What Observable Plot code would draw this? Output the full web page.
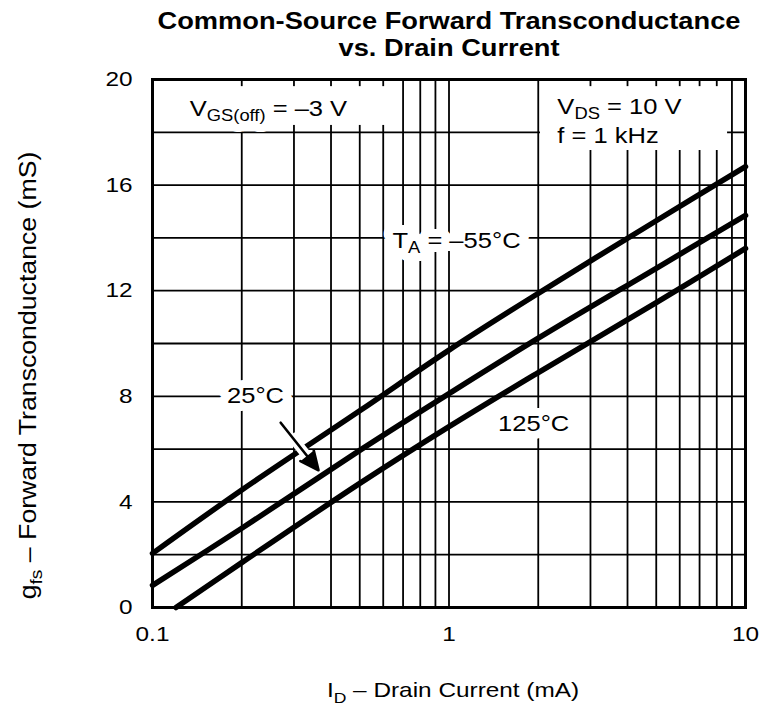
<!DOCTYPE html>
<html>
<head>
<meta charset="utf-8">
<script src="https://cdn.jsdelivr.net/npm/d3@7"></script>
<script src="https://cdn.jsdelivr.net/npm/@observablehq/plot@0.6"></script>
<style>
  html, body { margin: 0; padding: 0; background: #fff; }
  #chart svg { display: block; font-family: "Liberation Sans", Arial, Helvetica, sans-serif; }
</style>
</head>
<body>
<div id="chart"></div>
<script>
// Drain current (mA) sample points and forward transconductance (mS) per ambient temperature
const current = [0.1, 0.2, 0.5, 1, 2, 5, 10];
const gfsMinus55 = [2.05, 4.45, 7.45, 9.75, 11.9, 14.65, 16.7];
const gfs25 = [0.84, 3.0, 5.95, 8.1, 10.2, 12.85, 14.85];
const current125 = [0.12, 0.2, 0.5, 1, 2, 5, 10];
const gfs125 = [0, 1.7, 4.7, 6.85, 8.9, 11.55, 13.6];

// Axis ticks and grid
const xTicks = [0.1, 1, 10];
const yTicks = [0, 4, 8, 12, 16, 20];
const xGrid = [0.1, 1].flatMap(d => d3.range(2, 10).map(k => +(k * d).toFixed(2))).concat([1]);
const yGrid = d3.range(2, 20, 2);

// Titles and annotation text
const titleLines = ["Common-Source Forward Transconductance", "vs. Drain Current"];
const xTitle = "I_{D} – Drain Current (mA)";
const yTitle = "g_{fs} – Forward Transconductance (mS)";
const notesCentered = [
  {text: "V_{GS(off)} = –3 V", x: 0.246, y: 18.9},
  {text: "T_{A} = –55°C", x: 1.06, y: 13.9},
  {text: "25°C", x: 0.2226, y: 8.0},
  {text: "125°C", x: 1.93, y: 6.95}
];
const notesLeft = [
  {text: "V_{DS} = 10 V", x: 2.32, y: 18.97},
  {text: "f = 1 kHz", x: 2.32, y: 17.85}
];
// Blank panels behind the test-condition notes along the top of the grid
const noteBoxes = [
  {x1: 0.104, x2: 0.64, y1: 18.26, y2: 19.73},
  {x1: 2.035, x2: 8.7, y1: 17.31, y2: 19.73}
];
// Pointer from the 25°C note to its curve
const pointer = [{x1: 0.2706, y1: 7.0, x2: 0.363, y2: 5.2}];
const pointerGap = [{x1: 0.292, y1: 6.52, x2: 0.344, y2: 5.53}];

const series = [
  ...current.map((c, i) => ({temp: "-55", id: c, g: gfsMinus55[i]})),
  ...current.map((c, i) => ({temp: "25", id: c, g: gfs25[i]})),
  ...current125.map((c, i) => ({temp: "125", id: c, g: gfs125[i]}))
];

const noteSize = 22;
const tickSize = 21;
const stretch = 1.16; // glyphs in this style run a little wide

const halo = {stroke: "#fff", fill: "#fff", strokeWidth: 16, strokeLinejoin: "round", fontSize: noteSize};
const ink = {fill: "#000", fontSize: noteSize};

const chart = Plot.plot({
  width: 764,
  height: 705,
  marginLeft: 152,
  marginRight: 19,
  marginTop: 79,
  marginBottom: 98,
  style: {fontSize: `${tickSize}px`, color: "#000", background: "#fff"},
  x: {type: "log", domain: [0.1, 10]},
  y: {domain: [0, 20]},
  marks: [
    Plot.ruleX(xGrid, {stroke: "#000", strokeWidth: 1.8}),
    Plot.ruleY(yGrid, {stroke: "#000", strokeWidth: 1.8}),
    Plot.axisX({ticks: xTicks, tickFormat: d => String(d), tickSize: 0, tickPadding: 19, label: null, fontSize: tickSize}),
    Plot.axisY({ticks: yTicks, tickSize: 0, tickPadding: 20, label: null, fontSize: tickSize}),
    Plot.rect(noteBoxes, {x1: "x1", x2: "x2", y1: "y1", y2: "y2", fill: "#fff"}),
    Plot.text(notesCentered, {x: "x", y: "y", text: "text", textAnchor: "middle", ...halo}),
    Plot.text(notesCentered, {x: "x", y: "y", text: "text", textAnchor: "middle", ...ink}),
    Plot.text(notesLeft, {x: "x", y: "y", text: "text", textAnchor: "start", ...ink}),
    Plot.line(series, {x: "id", y: "g", z: "temp", stroke: "#000", strokeWidth: 5.5, curve: "catmull-rom"}),
    Plot.arrow(pointerGap, {x1: "x1", y1: "y1", x2: "x2", y2: "y2", stroke: "#fff", strokeWidth: 10, headLength: 0, strokeLinecap: "butt"}),
    Plot.arrow(pointer, {x1: "x1", y1: "y1", x2: "x2", y2: "y2", stroke: "#000", fill: "#000", strokeWidth: 2.6, headLength: 14, headAngle: 50}),
    Plot.frame({stroke: "#000", strokeWidth: 3}),
    Plot.text([titleLines[0]], {frameAnchor: "top", lineAnchor: "middle", dy: -58, text: d => d, fontWeight: "bold", fontSize: 23.5}),
    Plot.text([titleLines[1]], {frameAnchor: "top", lineAnchor: "middle", dy: -31, text: d => d, fontWeight: "bold", fontSize: 23.5}),
    Plot.text([xTitle], {frameAnchor: "bottom", lineAnchor: "middle", dx: 4, dy: 83, text: d => d, fontSize: 21}),
    Plot.text([yTitle], {frameAnchor: "left", textAnchor: "middle", lineAnchor: "middle", dx: -124, dy: 32, rotate: -90, text: d => d, fontSize: 23})
  ]
});

document.getElementById("chart").append(chart);

// Turn "_{...}" runs into subscript tspans, then widen every label along its baseline
const SVGNS = "http://www.w3.org/2000/svg";
chart.querySelectorAll("text").forEach(t => {
  const s = t.textContent;
  if (s.includes("_{")) {
    const size = parseFloat(getComputedStyle(t).fontSize) || noteSize;
    const shift = size * 0.26;
    const parts = s.split(/(_\{[^}]*\})/).filter(p => p);
    t.textContent = "";
    let lowered = false;
    parts.forEach(p => {
      const ts = document.createElementNS(SVGNS, "tspan");
      if (p.startsWith("_{")) {
        ts.textContent = p.slice(2, -1);
        ts.setAttribute("font-size", `${size * 0.72}px`);
        ts.setAttribute("dy", `${shift}px`);
        lowered = true;
      } else {
        ts.textContent = p;
        if (lowered) { ts.setAttribute("dy", `${-shift}px`); lowered = false; }
      }
      t.append(ts);
    });
  }
  const tr = t.getAttribute("transform");
  if (tr) {
    t.setAttribute("transform", `${tr} scale(${stretch},1)`);
  } else {
    const x = +(t.getAttribute("x") || 0), y = +(t.getAttribute("y") || 0);
    t.removeAttribute("x"); t.removeAttribute("y");
    t.setAttribute("transform", `translate(${x},${y}) scale(${stretch},1)`);
  }
});
</script>
</body>
</html>
